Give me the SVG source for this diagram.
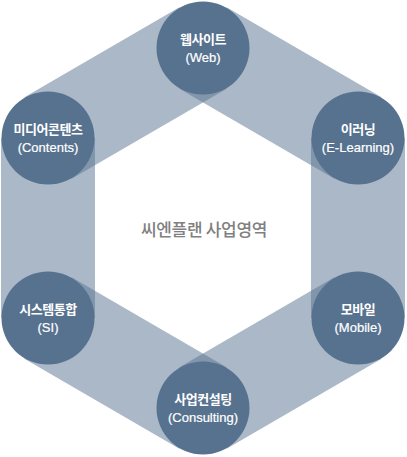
<svg xmlns="http://www.w3.org/2000/svg" width="407" height="457" viewBox="0 0 407 457">
<style>
.band{fill:#57728f;fill-opacity:0.5}
.node{fill:#57728f}
.ko{font-family:"Noto Sans CJK KR","Liberation Sans",sans-serif;font-size:13px;font-weight:bold;fill:#ffffff;text-anchor:middle;letter-spacing:-0.5px}
.en{font-family:"Liberation Sans","Noto Sans CJK KR",sans-serif;font-size:13px;fill:#ffffff;text-anchor:middle;stroke:#ffffff;stroke-width:0.2px}
.title{font-family:"Noto Sans CJK KR","Liberation Sans",sans-serif;font-size:17px;font-weight:500;fill:#808080;text-anchor:middle;letter-spacing:-0.3px}
</style>
<rect width="407" height="457" fill="#ffffff"/>
<g id="connectors">
<polygon class="band" points="179.4,7.35 226.6,88.65 71.6,178.65 24.4,97.35"/>
<polygon class="band" points="226.6,7.35 179.4,88.65 334.4,178.65 381.6,97.35"/>
<rect class="band" x="1" y="138" width="94" height="180"/>
<rect class="band" x="311" y="138" width="94" height="180"/>
<polygon class="band" points="179.4,448.65 226.6,367.35 71.6,277.35 24.4,358.65"/>
<polygon class="band" points="226.6,448.65 179.4,367.35 334.4,277.35 381.6,358.65"/>
</g>
<text class="title" x="204" y="236">씨엔플랜 사업영역</text>
<g id="web">
<circle class="node" cx="203" cy="48" r="46.5"/>
<text class="ko" x="203" y="44">웹사이트</text>
<text class="en" x="203" y="62">(Web)</text>
</g>
<g id="contents">
<circle class="node" cx="48" cy="138" r="46.5"/>
<text class="ko" x="48" y="134">미디어콘텐츠</text>
<text class="en" x="48" y="152">(Contents)</text>
</g>
<g id="elearning">
<circle class="node" cx="358" cy="138" r="46.5"/>
<text class="ko" x="358" y="134">이러닝</text>
<text class="en" x="358" y="152">(E-Learning)</text>
</g>
<g id="si">
<circle class="node" cx="48" cy="318" r="46.5"/>
<text class="ko" x="48" y="314">시스템통합</text>
<text class="en" x="48" y="332">(SI)</text>
</g>
<g id="mobile">
<circle class="node" cx="358" cy="318" r="46.5"/>
<text class="ko" x="358" y="314">모바일</text>
<text class="en" x="358" y="332">(Mobile)</text>
</g>
<g id="consulting">
<circle class="node" cx="203" cy="408" r="46.5"/>
<text class="ko" x="203" y="404">사업컨설팅</text>
<text class="en" x="203" y="422">(Consulting)</text>
</g>
</svg>
